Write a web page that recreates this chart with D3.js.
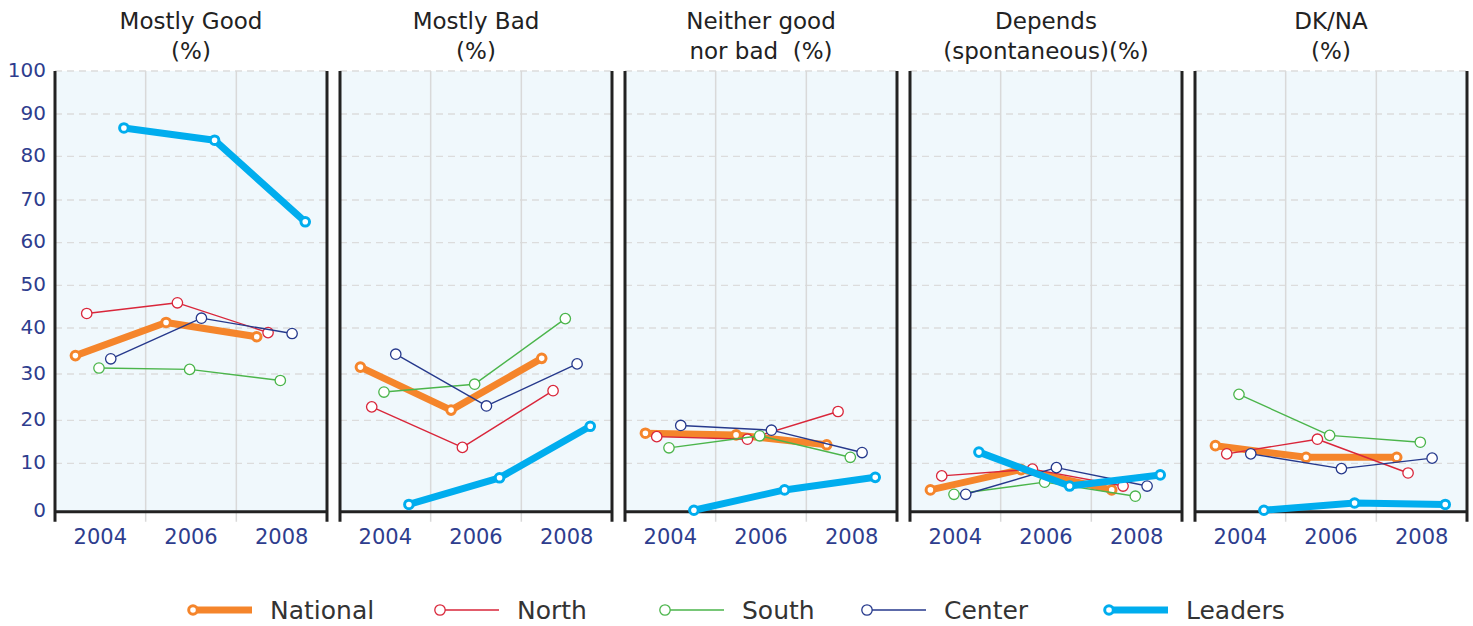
<!DOCTYPE html>
<html><head><meta charset="utf-8">
<script src="https://cdn.jsdelivr.net/npm/d3@7"></script>
<style>body{margin:0;background:#fff}svg{display:block}text{font-family:"DejaVu Sans",Verdana,sans-serif;white-space:pre}</style>
</head><body><svg id="c" width="1473" height="626"></svg>
<script>
const panelTitles = [["Mostly Good","(%)"],["Mostly Bad","(%)"],["Neither good","nor bad  (%)"],["Depends","(spontaneous)(%)"],["DK/NA","(%)"]];
const years = [2004, 2006, 2008];
const yTicks = [0,10,20,30,40,50,60,70,80,90,100];
const seriesNames = ["National","North","South","Center","Leaders"];
// values per panel [panel][year]
const nationalValues = [[34,41.3,38.1],[31.5,22.2,33.4],[17,16.6,14.3],[4.5,8.7,4.5],[14.1,11.4,11.4]];
const northValues    = [[43.4,45.9,39],[22.9,13.7,26.4],[16.2,15.6,21.9],[7.4,8.8,5.3],[12.2,15.6,8.0]];
const southValues    = [[31.3,31,28.6],[26.1,27.8,42.2],[13.6,16.4,11.4],[3.6,6.1,3.2],[25.6,16.5,14.9]];
const centerValues   = [[33.3,42.3,38.8],[34.3,23.1,32.2],[18.8,17.7,12.5],[3.6,9.1,5.3],[12.2,8.9,11.2]];
const leadersValues  = [[86.7,83.8,64.9],[1.5,7,18.6],[0.3,4.5,7.1],[12.6,5.3,7.6],[0.3,1.8,1.5]];

const allValues = [nationalValues, northValues, southValues, centerValues, leadersValues];
const colors = ["#f5852b","#d9263a","#4bb54b","#26398c","#00adee"];
const thick = [true,false,false,false,true];
const dodge = [-0.55,-0.3,-0.03,0.23,0.52];

const svg = d3.select("#c");
const panelW = 272, panelStep = 285, left0 = 55;
// gridline pixel rows as drawn in the original (slightly uneven spacing)
const yRange = [511.7,463.3,420.3,374,328,285.3,242.7,200,156.3,114,71];
const y = d3.scaleLinear().domain(yTicks).range(yRange);
const plotTop = y(100), plotBottom = y(0);
const axisColor = "#2e3d8e";

svg.append("g").selectAll("text").data(yTicks).join("text")
  .attr("x", 46).attr("y", d => y(d) - 1.5).attr("dy","0.36em")
  .attr("text-anchor","end").attr("font-size",20).attr("fill",axisColor).text(d=>d);

panelTitles.forEach((title, p) => {
  const x0 = left0 + p*panelStep;
  const x = d3.scaleLinear().domain([2003,2009]).range([x0, x0+panelW]);
  const g = svg.append("g");
  g.append("rect").attr("x",x0).attr("y",plotTop).attr("width",panelW).attr("height",plotBottom-plotTop).attr("fill","#f0f8fc");
  g.selectAll(".hg").data(yTicks.filter(d=>d>0)).join("line")
    .attr("x1",x0).attr("x2",x0+panelW).attr("y1",d=>y(d)).attr("y2",d=>y(d))
    .attr("stroke","#dcdcdc").attr("stroke-width",1.3).attr("stroke-dasharray","7,5");
  g.selectAll(".vg").data([2005,2007]).join("line")
    .attr("x1",d=>x(d)).attr("x2",d=>x(d)).attr("y1",plotTop).attr("y2",plotBottom+10)
    .attr("stroke","#d9d9d9").attr("stroke-width",1.5);
  [x0, x0+panelW].forEach(bx => g.append("line").attr("x1",bx).attr("x2",bx).attr("y1",plotTop).attr("y2",plotBottom+10)
    .attr("stroke","#222").attr("stroke-width",3));
  g.append("line").attr("x1",x0).attr("x2",x0+panelW).attr("y1",plotBottom).attr("y2",plotBottom).attr("stroke","#222").attr("stroke-width",3);
  g.selectAll(".yl").data(years).join("text")
    .attr("x",d=>x(d)).attr("y",544).attr("text-anchor","middle").attr("font-size",21).attr("fill",axisColor).text(d=>d);
  g.selectAll(".tt").data(title).join("text")
    .attr("x",x0+panelW/2).attr("y",(d,i)=>29+i*30).attr("text-anchor","middle").attr("font-size",23).attr("fill","#222").text(d=>d);
  allValues.forEach((vals, s) => {
    const pts = years.map((yr,i)=>[x(yr+dodge[s]), y(vals[p][i])]);
    g.append("path").attr("d", d3.line()(pts)).attr("fill","none").attr("stroke",colors[s])
      .attr("stroke-width", thick[s]?7:1.4).attr("stroke-linejoin","round").attr("stroke-linecap","round");
    g.selectAll(".pt"+s).data(pts).join("circle").attr("cx",d=>d[0]).attr("cy",d=>d[1])
      .attr("r", thick[s]?4.3:5.2).attr("fill","#fff").attr("stroke",colors[s]).attr("stroke-width", thick[s]?3:1.3);
  });
});

const legendX = [193, 440, 665, 867, 1109];
const lg = svg.append("g");
seriesNames.forEach((name, s) => {
  const lx = legendX[s];
  lg.append("line").attr("x1",lx).attr("x2",lx+59).attr("y1",610).attr("y2",610).attr("stroke",colors[s]).attr("stroke-width",thick[s]?7:1.4);
  lg.append("circle").attr("cx",lx).attr("cy",610).attr("r",thick[s]?4.3:5.2).attr("fill","#fff").attr("stroke",colors[s]).attr("stroke-width",thick[s]?3:1.3);
  lg.append("text").attr("x",lx+77).attr("y",619).attr("font-size",25).attr("fill","#333").text(name);
});
</script></body></html>
